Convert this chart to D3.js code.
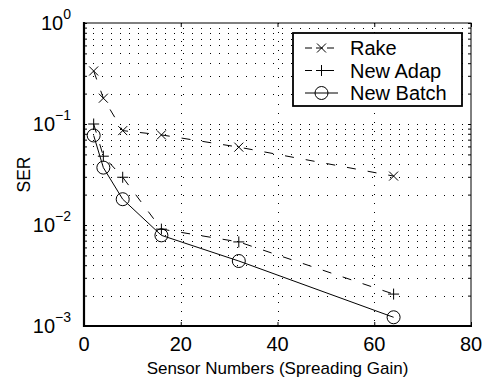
<!DOCTYPE html>
<html>
<head>
<meta charset="utf-8">
<script src="https://cdn.jsdelivr.net/npm/d3@7"></script>
<style>
  body { margin: 0; background: #fff; }
  text { font-family: "Liberation Sans", Arial, sans-serif; fill: #000; }
</style>
</head>
<body>
<div class="chart"><svg></svg></div>
<script>
// data
const sensors = [2, 4, 8, 16, 32, 64];
const rake    = [0.335, 0.18, 0.086, 0.078, 0.059, 0.0305];
const newAdap = [0.10, 0.048, 0.0297, 0.0091, 0.0068, 0.00207];
const newBatch = [0.077, 0.037, 0.018, 0.0079, 0.0044, 0.00122];
const seriesNames = ["Rake", "New Adap", "New Batch"];
const xTicks = [0, 20, 40, 60, 80];
const yExps = [0, -1, -2, -3];

const width = 485, height = 381;
const margin = {top: 23, right: 14, bottom: 55, left: 84};

const svg = d3.select(".chart > svg")
    .attr("width", width)
    .attr("height", height);

const x = d3.scaleLinear()
    .domain([0, 80])
    .range([margin.left, width - margin.right]);

const y = d3.scaleLog()
    .domain([1e-3, 1])
    .range([height - margin.bottom, margin.top]);

// minor log positions
const minorY = [];
for (let e = -3; e < 0; e++) {
  for (let m = 1; m < 10; m++) minorY.push(m * Math.pow(10, e));
}
minorY.push(1);

// dotted grid
const grid = svg.append("g").attr("stroke", "#000").attr("stroke-width", 1)
    .attr("stroke-dasharray", "1,8");
grid.selectAll("line.h")
  .data(minorY.filter(v => v > 1e-3 && v < 1))
  .join("line")
    .attr("x1", x(0)).attr("x2", x(80))
    .attr("y1", d => Math.round(y(d)) + 0.5).attr("y2", d => Math.round(y(d)) + 0.5);
grid.selectAll("line.v")
  .data(xTicks.filter(d => d > 0 && d < 80))
  .join("line")
    .attr("x1", d => Math.round(x(d)) + 0.5).attr("x2", d => Math.round(x(d)) + 0.5)
    .attr("y1", y(1)).attr("y2", y(1e-3));

// axes with inward ticks
svg.append("g")
    .attr("transform", `translate(0,${y(1e-3)})`)
    .call(d3.axisBottom(x).tickValues(xTicks).tickSize(-4).tickFormat(""))
    .call(g => g.select(".domain").remove());
svg.append("g")
    .attr("transform", `translate(0,${y(1)})`)
    .call(d3.axisTop(x).tickValues(xTicks).tickSize(-4).tickFormat(""))
    .call(g => g.select(".domain").remove());
svg.append("g")
    .attr("transform", `translate(${x(0)},0)`)
    .call(d3.axisLeft(y).tickValues(minorY).tickSize(-3).tickFormat(""))
    .call(g => g.select(".domain").remove());
svg.append("g")
    .attr("transform", `translate(${x(80)},0)`)
    .call(d3.axisRight(y).tickValues(minorY).tickSize(-3).tickFormat(""))
    .call(g => g.select(".domain").remove());

// frame
svg.append("rect")
    .attr("x", x(0)).attr("y", y(1))
    .attr("width", x(80) - x(0)).attr("height", y(1e-3) - y(1))
    .attr("fill", "none").attr("stroke", "#000").attr("stroke-width", 1);
svg.append("path")
    .attr("d", `M${x(0)},${y(1) - 1}V${y(1e-3)}H${x(80) + 1}`)
    .attr("fill", "none").attr("stroke", "#000").attr("stroke-width", 2.2);

// tick labels
svg.append("g").selectAll("text")
  .data(xTicks)
  .join("text")
    .attr("x", d => x(d)).attr("y", y(1e-3) + 25)
    .attr("text-anchor", "middle")
    .attr("font-size", 20)
    .text(d => d);

const yl = svg.append("g").selectAll("text")
  .data(yExps)
  .join("text")
    .attr("x", x(0) - 13).attr("y", d => y(Math.pow(10, d)) + 7)
    .attr("text-anchor", "end")
    .attr("font-size", 20)
    .text("10");
yl.append("tspan")
    .attr("dy", -11).attr("font-size", 14)
    .text(d => d === 0 ? "0" : "\u2212" + (-d));

// axis titles
svg.append("text")
    .attr("x", x(40)).attr("y", 374)
    .attr("text-anchor", "middle")
    .attr("font-size", 17)
    .text("Sensor Numbers (Spreading Gain)");
svg.append("text")
    .attr("transform", `translate(30,${(y(1) + y(1e-3)) / 2}) rotate(-90)`)
    .attr("text-anchor", "middle")
    .attr("font-size", 17.5)
    .text("SER");

// series
const series = [
  {name: seriesNames[0], values: rake, dash: "9,12", marker: "x"},
  {name: seriesNames[1], values: newAdap, dash: "9,12", marker: "plus"},
  {name: seriesNames[2], values: newBatch, dash: null, marker: "circle"}
];

const line = d3.line().x(d => x(d[0])).y(d => y(d[1]));

function drawMarker(g, type) {
  if (type === "x") {
    g.append("path").attr("d", "M-4.5,-4.5L4.5,4.5M-4.5,4.5L4.5,-4.5");
  } else if (type === "plus") {
    g.append("path").attr("d", "M-5.5,0H5.5M0,-5.5V5.5");
  } else {
    g.append("circle").attr("r", 6.5).attr("fill", "none");
  }
}

series.forEach(s => {
  const pts = sensors.map((v, i) => [v, s.values[i]]);
  svg.append("path")
      .datum(pts)
      .attr("d", line)
      .attr("fill", "none")
      .attr("stroke", "#000")
      .attr("stroke-width", 1)
      .attr("stroke-dasharray", s.dash);
  const mg = svg.append("g").attr("stroke", "#000").attr("stroke-width", 1).attr("fill", "none");
  pts.forEach(p => {
    const g = mg.append("g").attr("transform", `translate(${x(p[0])},${y(p[1])})`);
    drawMarker(g, s.marker);
  });
});

// legend
const lg = svg.append("g").attr("transform", "translate(293,33)");
lg.append("rect")
    .attr("width", 169).attr("height", 73)
    .attr("fill", "#fff").attr("stroke", "#000").attr("stroke-width", 1.8);
series.forEach((s, i) => {
  const yy = 15 + i * 22.5;
  lg.append("line")
      .attr("x1", 12).attr("x2", 45).attr("y1", yy).attr("y2", yy)
      .attr("stroke", "#000").attr("stroke-width", 1)
      .attr("stroke-dasharray", s.dash ? "7,4" : null);
  const mg = lg.append("g").attr("stroke", "#000").attr("stroke-width", 1).attr("fill", "none")
      .attr("transform", `translate(28.5,${yy})`);
  drawMarker(mg, s.marker);
  lg.append("text")
      .attr("x", 57).attr("y", yy + 7)
      .attr("font-size", 20)
      .text(s.name);
});
</script>
</body>
</html>
